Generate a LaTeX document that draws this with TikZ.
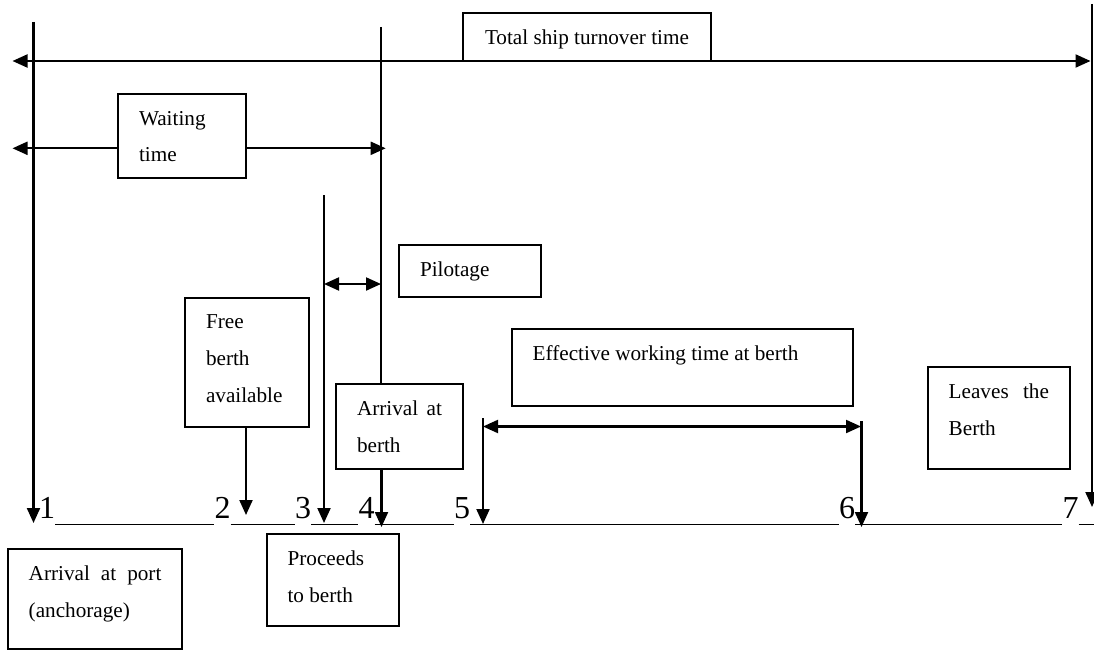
\documentclass[tikz,border=0pt]{standalone}
\usepackage{fontspec}
\setmainfont{Liberation Serif}
\usetikzlibrary{arrows.meta}

\newcommand{\stagefont}{\fontsize{21.2}{36.7}\selectfont}
% text of a box: width, height, text (top aligned)
\newcommand{\boxtxt}[3]{\parbox[c][#2][t]{#1}{\stagefont\hyphenpenalty=10000 #3}}

\tikzset{
  stage/.style={draw, line width=2pt, fill=white, inner xsep=21pt, inner ysep=17pt,
    outer sep=0pt, anchor=north west},
  digit/.style={font=\fontsize{32}{32}\selectfont, inner sep=0pt, anchor=base},
  tl/.style={line width=2.1pt},
  arr/.style={tl, -{Triangle[length=15pt,width=13pt]}},
  dbl/.style={tl, {Triangle[length=15pt,width=13pt]}-{Triangle[length=15pt,width=13pt]}},
  ul/.style={line width=1.6pt}
}

\begin{document}
\begin{tikzpicture}[x=1pt,y=-1pt]
    \useasboundingbox (0,0) rectangle (1094,650);
    %boxes
    \node[stage] (total) at (463,13) {\boxtxt{206pt}{14pt}{\centering Total ship turnover time}};
    \node[stage] (wait) at (118,94) {\boxtxt{85.5pt}{50pt}{Waiting time}};
    \node[stage] (free) at (185,298) {\boxtxt{82pt}{95pt}{Free berth available}};
    \node[stage] (pilot) at (399,245) {\boxtxt{100pt}{18pt}{Pilotage}};
    \node[stage] (abth) at (336,384) {\boxtxt{85pt}{51pt}{Arrival at berth}};
    \node[stage] (work) at (511.7,329) {\boxtxt{299pt}{43pt}{Effective working time at berth}};
    \node[stage] (leave) at (927.7,366.7) {\boxtxt{100.3pt}{68.3pt}{Leaves the Berth}};
    \node[stage] (proc) at (266.6,534) {\boxtxt{90.6pt}{58pt}{Proceeds to berth}};
    \node[stage] (aport) at (7.7,549) {\boxtxt{132.7pt}{66pt}{Arrival at port (anchorage)}};

    %time line
    \foreach \i/\x in {1/47,2/222.5,3/303,4/366.5,5/462,6/847,7/1070.5}
        {%
            \node[digit] (n\i) at (\x,518.5) {\i};
        }
    \coordinate (ul) at (0,524.3);
    \coordinate (ulend) at (1094,524.3);
    \foreach \a/\b in {1/2,2/3,3/4,4/5,5/6,6/7}
        {%
            \draw[ul] (n\a.east |- ul) -- (n\b.west |- ul);
        }
    \draw[ul] (n7.east |- ul) -- (ulend);

    %events
    \coordinate (t1) at (33.5,22);   \coordinate (b1) at (33.5,523);
    \coordinate (b2) at (246,515);
    \coordinate (t3) at (324,195);   \coordinate (b3) at (324,523);
    \coordinate (t4) at (381,27);    \coordinate (b4) at (381.5,527);
    \coordinate (t5) at (483,418);   \coordinate (b5) at (483,524);
    \coordinate (t6) at (861.5,421); \coordinate (b6) at (861.5,527);
    \coordinate (t7) at (1092,4);    \coordinate (b7) at (1092,507);
    \draw[arr] (t1) -- (b1);
    \draw[arr] (free.south -| b2) -- (b2);
    \draw[arr] (t3) -- (b3);
    \draw[tl] (t4) -- (t4 |- abth.north);
    \draw[arr] (b4 |- abth.south) -- (b4);
    \draw[arr] (t5) -- (b5);
    \draw[arr] (t6) -- (b6);
    \draw[arr] (t7) -- (b7);

    %durations
    \coordinate (totl) at (12.5,61);  \coordinate (totr) at (1090.5,61);
    \draw[dbl] (totl) -- (totr);
    \coordinate (wl) at (12.5,148.3); \coordinate (wr) at (385.7,148.3);
    \draw[arr] (wait.west |- wl) -- (wl);
    \draw[arr] (wait.east |- wr) -- (wr);
    \coordinate (pl) at (324,284);    \coordinate (pr) at (381,284);
    \draw[dbl] (pl) -- (pr);
    \coordinate (el) at (483,426.5);  \coordinate (er) at (861,426.5);
    \draw[dbl] (el) -- (er);
\end{tikzpicture}
\end{document}
